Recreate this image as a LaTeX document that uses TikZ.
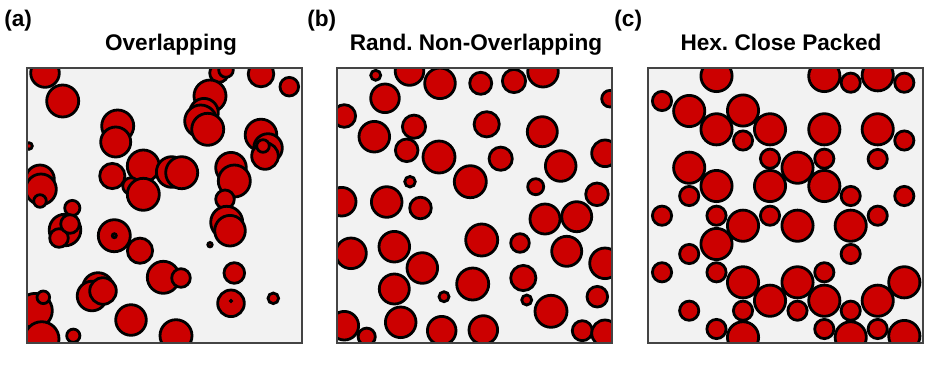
\documentclass[tikz,border=0pt]{standalone}
\usepackage{fontspec}
\setmainfont{Liberation Sans}
\usepackage{tikz}
\frenchspacing
\definecolor{grainred}{RGB}{204,0,0}
\definecolor{boxgray}{RGB}{242,242,242}
\definecolor{edgegray}{RGB}{68,68,68}
\tikzset{
  panelbox/.style={draw=edgegray, line width=1pt},
  grain/.style={draw=black, line width=1.4pt, fill=grainred},
  ptitle/.style={font=\fontsize{11.3}{13}\selectfont\bfseries, anchor=base, inner sep=0pt},
  plabel/.style={font=\fontsize{11.3}{13}\selectfont\bfseries, anchor=base west, inner sep=0pt},
}

\begin{document}
\begin{tikzpicture}[x=0.5pt,y=-0.5pt]
  \useasboundingbox (0,0) rectangle (945,365);

  % panel labels and titles
  \node[plabel] (la) at (4,26) {(a)};
  \node[plabel] (lb) at (307,26) {(b)};
  \node[plabel] (lc) at (614,26) {(c)};
  \node[ptitle] (ta) at (171,50) {Overlapping};
  \node[ptitle] (tb) at (476,50) {Rand. Non-Overlapping};
  \node[ptitle] (tc) at (781,50) {Hex. Close Packed};

  % (a) overlapping
  \fill[boxgray] (27,68) rectangle (302,343);
  \begin{scope}
    \clip (27,68) rectangle (302,343);
    \foreach \cx/\cy/\r in {45/73/13.5, 62.7/101/15.2, 219/73/8.5, 226/70/6.5,
      261/74/12, 289.3/86.7/8.5, 210/96/15.2, 204/112.7/13.5, 200.7/121/15.2,
      207.7/129.3/15.2, 117.7/126/15.2, 115.7/142/14.2, 29/146/2.5,
      261/135/15, 268/148/13.5, 265/156/12.5, 263/146/5.5,
      40/179.3/13.5, 41/189.3/14.5, 40/201/5.5, 112.3/176/11.8,
      143.3/166/15.2, 171.7/172/14.5, 181.7/172.7/15.2, 131/186/7.5,
      143.3/194.3/15.2, 231/167.7/14.5, 234.3/181/15.2, 225/199.3/8.5,
      72.3/208/6.8, 65/230/15, 59/238/8.5, 70/224/8.5,
      114.3/235.7/15.2, 114.3/235.7/1.2, 140/250.7/11.8,
      226.7/222.3/15.2, 230/230.7/14.5, 210/244.7/1.4,
      234.3/273/9.5, 163.3/277.3/15.2, 181/278/8.5,
      98/288/14.5, 92/296/14, 103/291/12.5,
      231/303.3/12.5, 231/301/-0.5, 273.3/298.3/4.5,
      35/310.7/16.5, 43.3/297.3/5.5, 131/320/14.5,
      41.7/339/16.5, 73.3/335.7/5.8, 176/335.7/15.2}
      \draw[grain] (\cx,\cy) circle[radius=\r+0.8];
  \end{scope}
  \draw[panelbox] (27,68) rectangle (302,343);

  % (b) random, non-overlapping
  \fill[boxgray] (337,68) rectangle (612,343);
  \begin{scope}
    \clip (337,68) rectangle (612,343);
    \foreach \cx/\cy/\r in {375.7/75.3/4.2, 409.5/71/13.5, 440/83.3/14.5,
      480.7/83.3/10.2, 514/81/10.8, 543/71.7/14.5, 385/98.3/13.5,
      610/98.7/7.5, 344.3/116/10.5, 414/126.7/10.8, 486.7/124.3/11.8,
      374.3/136.7/14.5, 542.3/131.7/14.2, 406.7/150.3/10.5, 439/157/15.2,
      500.7/158.7/10.8, 605/153.3/12.5, 560.7/166/14.5, 470.3/181.7/15.2,
      410/181.7/4.5, 535.7/186.7/7.2, 341.7/201.7/13.5, 386.7/202/14.5,
      420.5/208/10, 597/194.3/10.5, 545/219/14.2, 576.7/216.7/14.2,
      351/253.3/14.5, 394.3/246.7/14.5, 422.3/268/14.5, 481.7/240/15.2,
      520/243/8.5, 566.7/251.3/14.2, 605/263.3/14.5, 394.3/289/14.2,
      472.7/284/15.2, 444/296.7/4.2, 523.3/278/11.8, 526.7/300/4.2,
      551/311.3/15.2, 597.3/296.7/9.5, 344.3/325.7/13.5, 366.7/336.7/7.8,
      400.7/322.3/14.5, 441.7/330.7/13.5, 483.3/330/13.5, 582.3/330.7/9.2,
      605/333.3/12.5}
      \draw[grain] (\cx,\cy) circle[radius=\r+0.8];
  \end{scope}
  \draw[panelbox] (337,68) rectangle (612,343);

  % (c) hex close packed
  \fill[boxgray] (648,68) rectangle (923,343);
  \begin{scope}
    \clip (648,68) rectangle (923,343);
    % large sections
    \foreach \cx/\cy in {716.5/76, 824.3/76, 877.7/75.3, 689.2/111, 743/110.5,
      716.5/129.3, 770/129.3, 824.3/129.3, 877.7/129.3, 797.5/167.7,
      689.2/167.7, 716.5/186, 770/186, 824.3/186, 743/225.7, 797.5/225.7,
      850.7/225.7, 716.5/244, 743/282.3, 797.5/282.3, 904.3/282.3,
      770/300.7, 824.3/300.7, 877.7/300.7, 743/337.3, 850.7/337.3, 904.3/336}
      \draw[grain] (\cx,\cy) circle[radius=15.6];
    % small sections
    \foreach \cx/\cy in {850.7/82.7, 904.3/82.7, 662/101, 743/140.5, 904.3/140.5,
      770/158.7, 824.3/158.7, 877.7/159, 689.2/196, 850.7/196, 904.3/196,
      662/215.7, 716.5/215.7, 770/215.7, 877.7/215.7, 689.2/254, 850.7/254,
      662/272.3, 716.5/272.3, 824.3/272.3, 689.2/310.7, 743/310.7,
      797.5/310.7, 850.7/310.7, 716.5/329, 824.3/329, 877.7/329}
      \draw[grain] (\cx,\cy) circle[radius=9.6];
  \end{scope}
  \draw[panelbox] (648,68) rectangle (923,343);
\end{tikzpicture}
\end{document}
